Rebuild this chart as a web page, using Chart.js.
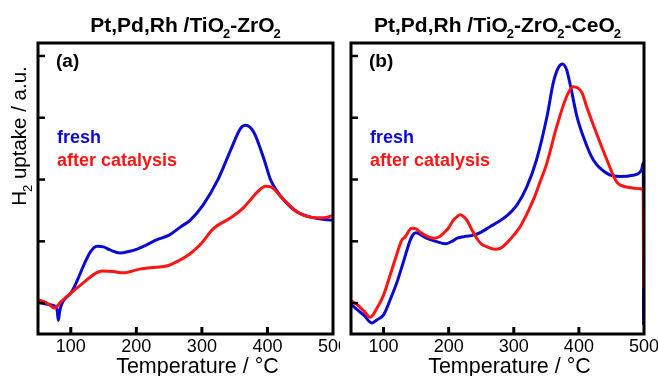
<!DOCTYPE html>
<html>
<head>
<meta charset="utf-8">
<script src="https://cdn.jsdelivr.net/npm/chart.js@4"></script>
<style>
  html, body { margin: 0; padding: 0; background: #fff; }
  #wrap { position: relative; width: 658px; height: 376px; overflow: hidden; }
  canvas { position: absolute; top: 0; }
  #cA { left: 0; }
  #cB { left: 340px; }
</style>
</head>
<body>
<div id="wrap">
  <canvas id="cA" width="340" height="376"></canvas>
  <canvas id="cB" width="318" height="376"></canvas>
</div>
<script>
// H2-TPR profiles (arbitrary units)
const xTickVals = [100, 200, 300, 400, 500];
const yTickVals = [0, 1, 2, 3, 4];

// (a) Pt,Pd,Rh / TiO2-ZrO2
const tFreshA = [50, 60, 70, 76, 79, 81, 83, 86, 92, 100, 110, 120, 130, 140, 150, 160, 175, 190, 200, 215, 230, 250, 267, 282, 302, 324, 344, 359, 367, 379, 395, 405, 425, 446, 471, 500];
const vFreshA = [0.02, -0.01, -0.03, -0.05, -0.1, -0.28, -0.14, -0.02, 0.08, 0.16, 0.37, 0.62, 0.83, 0.92, 0.91, 0.86, 0.81, 0.84, 0.87, 0.94, 1.02, 1.10, 1.23, 1.34, 1.59, 1.99, 2.48, 2.83, 2.88, 2.77, 2.32, 1.99, 1.67, 1.47, 1.38, 1.34];
const tAfterA = [50, 60, 68, 75, 85, 100, 118, 139, 148, 165, 180, 205, 230, 246, 267, 282, 297, 318, 344, 364, 385, 397, 405, 425, 446, 466, 486, 500];
const vAfterA = [0.05, 0.02, -0.03, -0.08, 0.02, 0.16, 0.32, 0.49, 0.52, 0.51, 0.49, 0.55, 0.58, 0.60, 0.70, 0.80, 0.94, 1.21, 1.38, 1.55, 1.80, 1.89, 1.88, 1.67, 1.47, 1.39, 1.38, 1.42];

// (b) Pt,Pd,Rh / TiO2-ZrO2-CeO2
const tFreshB = [50, 60, 70, 82, 90, 100, 110, 120, 130, 141, 146, 150, 158, 166, 180, 195, 205, 213, 225, 238, 250, 264, 277, 289, 305, 320, 335, 351, 361, 369, 375, 381, 387, 397, 407, 422, 443, 463, 483, 496, 499, 499.3];
const vFreshB = [-0.02, -0.11, -0.2, -0.32, -0.27, -0.19, 0.05, 0.32, 0.65, 1.02, 1.12, 1.14, 1.10, 1.05, 1.00, 0.96, 1.00, 1.05, 1.08, 1.10, 1.15, 1.24, 1.32, 1.41, 1.59, 1.88, 2.32, 3.02, 3.58, 3.82, 3.87, 3.78, 3.52, 3.02, 2.69, 2.32, 2.10, 2.05, 2.07, 2.15, 2.27, -0.35];
const tAfterB = [50, 60, 70, 79, 90, 100, 110, 120, 128, 133, 143, 150, 156, 167, 177, 185, 192, 200, 207, 213, 218, 223, 228, 236, 243, 250, 259, 271, 280, 289, 300, 310, 320, 330, 340, 351, 366, 381, 391, 399, 405, 412, 427, 443, 458, 466, 473, 485, 494, 499, 499.3];
const vAfterB = [0.04, -0.03, -0.13, -0.23, -0.08, 0.13, 0.45, 0.78, 1.02, 1.07, 1.21, 1.20, 1.15, 1.08, 1.05, 1.07, 1.13, 1.22, 1.34, 1.40, 1.43, 1.40, 1.34, 1.18, 1.05, 0.96, 0.91, 0.87, 0.89, 0.97, 1.10, 1.24, 1.44, 1.67, 1.95, 2.27, 2.86, 3.34, 3.50, 3.48, 3.40, 3.18, 2.75, 2.32, 1.96, 1.90, 1.88, 1.86, 1.85, 1.83, 0.24];

const BLUE = "#0a0ad2";
const RED = "#ff1414";
const FONT = "'Liberation Sans', Arial, Helvetica, sans-serif";

function pts(ts, vs){ return ts.map((t, i) => ({x: t, y: vs[i]})); }

// text with subscript pieces: parts = [[text, isSub], ...]
function richWidth(ctx, parts, size, bold){
  let w = 0;
  for (const [txt, sub] of parts){
    ctx.font = `${bold ? "bold " : ""}${sub ? Math.round(size * 0.62) : size}px ${FONT}`;
    w += ctx.measureText(txt).width + (sub ? -1 : 0);
  }
  return w;
}
function drawRich(ctx, parts, x, y, size, bold, align){
  const w = richWidth(ctx, parts, size, bold);
  let cx = align === "center" ? x - w / 2 : x;
  ctx.textBaseline = "alphabetic";
  ctx.textAlign = "left";
  for (const [txt, sub] of parts){
    ctx.font = `${bold ? "bold " : ""}${sub ? Math.round(size * 0.62) : size}px ${FONT}`;
    if (sub) cx -= 1;
    ctx.fillText(txt, cx, y + (sub ? size * 0.28 : 0));
    cx += ctx.measureText(txt).width;
  }
}

const framePlugin = {
  id: "frame",
  afterDraw(chart, args, opts){
    const {ctx, chartArea: a, scales} = chart;
    ctx.save();
    ctx.strokeStyle = "#000";
    // inward ticks
    ctx.lineWidth = 2.5;
    for (const v of yTickVals){
      const y = scales.y.getPixelForValue(v);
      ctx.beginPath(); ctx.moveTo(a.left, y); ctx.lineTo(a.left + 7, y); ctx.stroke();
    }
    ctx.lineWidth = 3;
    for (const v of xTickVals.slice(0, -1)){
      const x = scales.x.getPixelForValue(v);
      ctx.beginPath(); ctx.moveTo(x, a.bottom); ctx.lineTo(x, a.bottom - 7); ctx.stroke();
    }
    // frame
    ctx.lineWidth = 3;
    ctx.strokeRect(a.left, a.top, a.right - a.left, a.bottom - a.top);

    const mid = (a.left + a.right) / 2;
    ctx.fillStyle = "#000";
    drawRich(ctx, opts.title, mid, 32, 21, true, "center");
    drawRich(ctx, [["Temperature / \u00B0C", false]], mid + 12, 373, 21.5, false, "center");

    ctx.font = `bold 19px ${FONT}`;
    ctx.textAlign = "left";
    ctx.fillText(opts.tag, a.left + 18, 67);
    ctx.font = `bold 18px ${FONT}`;
    ctx.fillStyle = BLUE;
    ctx.fillText("fresh", a.left + 19, 143);
    ctx.fillStyle = RED;
    ctx.fillText("after catalysis", a.left + 19, 166);

    if (opts.yTitle){
      ctx.save();
      ctx.translate(26, 136);
      ctx.rotate(-Math.PI / 2);
      ctx.fillStyle = "#000";
      drawRich(ctx, [["H", false], ["2", true], [" uptake / a.u.", false]], 0, 0, 20.5, false, "center");
      ctx.restore();
    }
    ctx.restore();
  }
};

function makePanel(id, fresh, after, padL, padR, opts){
  return new Chart(document.getElementById(id), {
    type: "line",
    data: {
      datasets: [
        { label: "after catalysis", data: after, borderColor: RED },
        { label: "fresh", data: fresh, borderColor: BLUE }
      ]
    },
    options: {
      responsive: false,
      animation: false,
      layout: { padding: { left: padL, right: padR, top: 43, bottom: 0 } },
      elements: {
        line: { borderWidth: 3, cubicInterpolationMode: "monotone", fill: false },
        point: { radius: 0 }
      },
      plugins: { legend: { display: false }, tooltip: { enabled: false }, frame: opts },
      scales: {
        x: {
          type: "linear", min: 50, max: 500,
          grid: { display: false, drawTicks: false },
          border: { display: false },
          afterBuildTicks: s => { s.ticks = xTickVals.map(v => ({ value: v })); },
          afterFit: s => { s.height = 42; s.paddingLeft = 0; s.paddingRight = 0; },
          ticks: { color: "#000", padding: 2, maxRotation: 0, autoSkip: false, font: { family: FONT, size: 18 } }
        },
        y: { display: false, min: -0.5, max: 4.21 }
      }
    },
    plugins: [framePlugin]
  });
}

makePanel("cA", pts(tFreshA, vFreshA), pts(tAfterA, vAfterA), 38, 7, {
  title: [["Pt,Pd,Rh /TiO", false], ["2", true], ["-ZrO", false], ["2", true]],
  tag: "(a)", yTitle: true
});
makePanel("cB", pts(tFreshB, vFreshB), pts(tAfterB, vAfterB), 11, 14, {
  title: [["Pt,Pd,Rh /TiO", false], ["2", true], ["-ZrO", false], ["2", true], ["-CeO", false], ["2", true]],
  tag: "(b)", yTitle: false
});
</script>
</body>
</html>
